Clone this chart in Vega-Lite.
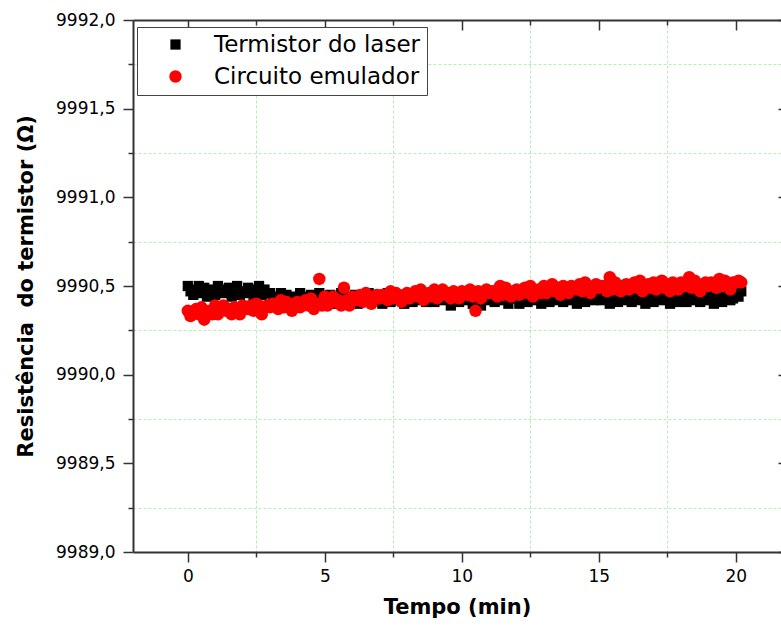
{
  "$schema": "https://vega.github.io/schema/vega-lite/v6.json",
  "width": 648,
  "height": 532,
  "autosize": {"type": "none"},
  "padding": {"left": 133, "top": 20, "right": 0, "bottom": 82},
  "background": "white",
  "config": {"view": {"stroke": null}, "font": "DejaVu Sans"},
  "data": {"values": [
    {"t":0,"L":9990.50,"C":9990.36},{"t":0.1,"L":9990.47,"C":9990.33},{"t":0.2,"L":9990.45,"C":9990.35},{"t":0.3,"L":9990.48,"C":9990.37},{"t":0.4,"L":9990.50,"C":9990.34},
    {"t":0.5,"L":9990.46,"C":9990.38},{"t":0.6,"L":9990.49,"C":9990.31},{"t":0.7,"L":9990.44,"C":9990.35},{"t":0.8,"L":9990.47,"C":9990.36},{"t":0.9,"L":9990.48,"C":9990.34},
    {"t":1.0,"L":9990.45,"C":9990.39},{"t":1.1,"L":9990.50,"C":9990.34},{"t":1.2,"L":9990.48,"C":9990.37},{"t":1.3,"L":9990.46,"C":9990.39},{"t":1.4,"L":9990.47,"C":9990.36},
    {"t":1.5,"L":9990.49,"C":9990.37},{"t":1.6,"L":9990.44,"C":9990.34},{"t":1.7,"L":9990.48,"C":9990.38},{"t":1.8,"L":9990.50,"C":9990.37},{"t":1.9,"L":9990.45,"C":9990.34},
    {"t":2.0,"L":9990.47,"C":9990.39},{"t":2.1,"L":9990.46,"C":9990.37},{"t":2.2,"L":9990.49,"C":9990.37},{"t":2.3,"L":9990.48,"C":9990.39},{"t":2.4,"L":9990.44,"C":9990.36},
    {"t":2.5,"L":9990.47,"C":9990.40},{"t":2.6,"L":9990.50,"C":9990.39},{"t":2.7,"L":9990.45,"C":9990.34},{"t":2.8,"L":9990.48,"C":9990.38},{"t":2.9,"L":9990.46,"C":9990.39},
    {"t":3.0,"L":9990.46,"C":9990.38},{"t":3.1,"L":9990.43,"C":9990.40},{"t":3.2,"L":9990.41,"C":9990.39},{"t":3.3,"L":9990.44,"C":9990.37},{"t":3.4,"L":9990.46,"C":9990.42},
    {"t":3.5,"L":9990.42,"C":9990.38},{"t":3.6,"L":9990.45,"C":9990.41},{"t":3.7,"L":9990.40,"C":9990.39},{"t":3.8,"L":9990.43,"C":9990.36},{"t":3.9,"L":9990.44,"C":9990.40},
    {"t":4.0,"L":9990.41,"C":9990.41},{"t":4.1,"L":9990.46,"C":9990.38},{"t":4.2,"L":9990.44,"C":9990.40},{"t":4.3,"L":9990.42,"C":9990.42},{"t":4.4,"L":9990.43,"C":9990.39},
    {"t":4.5,"L":9990.45,"C":9990.43},{"t":4.6,"L":9990.40,"C":9990.37},{"t":4.7,"L":9990.44,"C":9990.40},{"t":4.8,"L":9990.46,"C":9990.54},{"t":4.9,"L":9990.41,"C":9990.39},
    {"t":5.0,"L":9990.43,"C":9990.44},{"t":5.1,"L":9990.42,"C":9990.39},{"t":5.2,"L":9990.45,"C":9990.42},{"t":5.3,"L":9990.44,"C":9990.44},{"t":5.4,"L":9990.40,"C":9990.41},
    {"t":5.5,"L":9990.43,"C":9990.42},{"t":5.6,"L":9990.46,"C":9990.39},{"t":5.7,"L":9990.41,"C":9990.49},{"t":5.8,"L":9990.44,"C":9990.42},{"t":5.9,"L":9990.42,"C":9990.39},
    {"t":6.0,"L":9990.42,"C":9990.44},{"t":6.1,"L":9990.45,"C":9990.43},{"t":6.2,"L":9990.40,"C":9990.42},{"t":6.3,"L":9990.43,"C":9990.45},{"t":6.4,"L":9990.44,"C":9990.41},
    {"t":6.5,"L":9990.41,"C":9990.46},{"t":6.6,"L":9990.46,"C":9990.44},{"t":6.7,"L":9990.44,"C":9990.40},{"t":6.8,"L":9990.42,"C":9990.43},{"t":6.9,"L":9990.43,"C":9990.45},
    {"t":7.0,"L":9990.45,"C":9990.43},{"t":7.1,"L":9990.40,"C":9990.45},{"t":7.2,"L":9990.44,"C":9990.44},{"t":7.3,"L":9990.46,"C":9990.42},{"t":7.4,"L":9990.41,"C":9990.47},
    {"t":7.5,"L":9990.43,"C":9990.43},{"t":7.6,"L":9990.42,"C":9990.46},{"t":7.7,"L":9990.45,"C":9990.44},{"t":7.8,"L":9990.44,"C":9990.41},{"t":7.9,"L":9990.40,"C":9990.45},
    {"t":8.0,"L":9990.43,"C":9990.46},{"t":8.1,"L":9990.46,"C":9990.43},{"t":8.2,"L":9990.41,"C":9990.45},{"t":8.3,"L":9990.44,"C":9990.47},{"t":8.4,"L":9990.42,"C":9990.44},
    {"t":8.5,"L":9990.46,"C":9990.48},{"t":8.6,"L":9990.43,"C":9990.42},{"t":8.7,"L":9990.41,"C":9990.45},{"t":8.8,"L":9990.44,"C":9990.46},{"t":8.9,"L":9990.46,"C":9990.44},
    {"t":9.0,"L":9990.41,"C":9990.48},{"t":9.1,"L":9990.46,"C":9990.43},{"t":9.2,"L":9990.44,"C":9990.46},{"t":9.3,"L":9990.42,"C":9990.48},{"t":9.4,"L":9990.43,"C":9990.45},
    {"t":9.5,"L":9990.45,"C":9990.46},{"t":9.6,"L":9990.39,"C":9990.43},{"t":9.7,"L":9990.44,"C":9990.47},{"t":9.8,"L":9990.46,"C":9990.46},{"t":9.9,"L":9990.41,"C":9990.43},
    {"t":10.0,"L":9990.43,"C":9990.47},{"t":10.1,"L":9990.42,"C":9990.46},{"t":10.2,"L":9990.45,"C":9990.45},{"t":10.3,"L":9990.44,"C":9990.48},{"t":10.4,"L":9990.40,"C":9990.44},
    {"t":10.5,"L":9990.43,"C":9990.36},{"t":10.6,"L":9990.46,"C":9990.47},{"t":10.7,"L":9990.39,"C":9990.43},{"t":10.8,"L":9990.44,"C":9990.46},{"t":10.9,"L":9990.42,"C":9990.48},
    {"t":11.0,"L":9990.46,"C":9990.46},{"t":11.1,"L":9990.43,"C":9990.47},{"t":11.2,"L":9990.41,"C":9990.47},{"t":11.3,"L":9990.44,"C":9990.44},{"t":11.4,"L":9990.46,"C":9990.50},
    {"t":11.5,"L":9990.42,"C":9990.45},{"t":11.6,"L":9990.45,"C":9990.49},{"t":11.7,"L":9990.40,"C":9990.46},{"t":11.8,"L":9990.43,"C":9990.44},{"t":11.9,"L":9990.44,"C":9990.47},
    {"t":12.0,"L":9990.45,"C":9990.48},{"t":12.1,"L":9990.40,"C":9990.45},{"t":12.2,"L":9990.44,"C":9990.47},{"t":12.3,"L":9990.46,"C":9990.49},{"t":12.4,"L":9990.41,"C":9990.46},
    {"t":12.5,"L":9990.43,"C":9990.50},{"t":12.6,"L":9990.42,"C":9990.44},{"t":12.7,"L":9990.45,"C":9990.47},{"t":12.8,"L":9990.44,"C":9990.48},{"t":12.9,"L":9990.40,"C":9990.46},
    {"t":13.0,"L":9990.43,"C":9990.50},{"t":13.1,"L":9990.46,"C":9990.46},{"t":13.2,"L":9990.41,"C":9990.48},{"t":13.3,"L":9990.44,"C":9990.51},{"t":13.4,"L":9990.42,"C":9990.47},
    {"t":13.5,"L":9990.46,"C":9990.49},{"t":13.6,"L":9990.43,"C":9990.45},{"t":13.7,"L":9990.41,"C":9990.50},{"t":13.8,"L":9990.44,"C":9990.48},{"t":13.9,"L":9990.46,"C":9990.46},
    {"t":14.0,"L":9990.42,"C":9990.50},{"t":14.1,"L":9990.45,"C":9990.49},{"t":14.2,"L":9990.40,"C":9990.48},{"t":14.3,"L":9990.43,"C":9990.51},{"t":14.4,"L":9990.44,"C":9990.47},
    {"t":14.5,"L":9990.41,"C":9990.52},{"t":14.6,"L":9990.46,"C":9990.50},{"t":14.7,"L":9990.44,"C":9990.46},{"t":14.8,"L":9990.42,"C":9990.49},{"t":14.9,"L":9990.43,"C":9990.51},
    {"t":15.0,"L":9990.43,"C":9990.49},{"t":15.1,"L":9990.42,"C":9990.50},{"t":15.2,"L":9990.45,"C":9990.50},{"t":15.3,"L":9990.44,"C":9990.47},{"t":15.4,"L":9990.40,"C":9990.55},
    {"t":15.5,"L":9990.43,"C":9990.48},{"t":15.6,"L":9990.46,"C":9990.52},{"t":15.7,"L":9990.41,"C":9990.49},{"t":15.8,"L":9990.44,"C":9990.47},{"t":15.9,"L":9990.42,"C":9990.50},
    {"t":16.0,"L":9990.46,"C":9990.51},{"t":16.1,"L":9990.43,"C":9990.48},{"t":16.2,"L":9990.41,"C":9990.50},{"t":16.3,"L":9990.44,"C":9990.52},{"t":16.4,"L":9990.46,"C":9990.49},
    {"t":16.5,"L":9990.42,"C":9990.53},{"t":16.6,"L":9990.45,"C":9990.47},{"t":16.7,"L":9990.40,"C":9990.50},{"t":16.8,"L":9990.43,"C":9990.51},{"t":16.9,"L":9990.44,"C":9990.49},
    {"t":17.0,"L":9990.41,"C":9990.52},{"t":17.1,"L":9990.46,"C":9990.48},{"t":17.2,"L":9990.44,"C":9990.50},{"t":17.3,"L":9990.42,"C":9990.53},{"t":17.4,"L":9990.43,"C":9990.49},
    {"t":17.5,"L":9990.45,"C":9990.51},{"t":17.6,"L":9990.40,"C":9990.47},{"t":17.7,"L":9990.44,"C":9990.52},{"t":17.8,"L":9990.46,"C":9990.50},{"t":17.9,"L":9990.41,"C":9990.48},
    {"t":18.0,"L":9990.43,"C":9990.52},{"t":18.1,"L":9990.46,"C":9990.50},{"t":18.2,"L":9990.41,"C":9990.50},{"t":18.3,"L":9990.44,"C":9990.55},{"t":18.4,"L":9990.42,"C":9990.49},
    {"t":18.5,"L":9990.46,"C":9990.53},{"t":18.6,"L":9990.43,"C":9990.51},{"t":18.7,"L":9990.41,"C":9990.47},{"t":18.8,"L":9990.44,"C":9990.51},{"t":18.9,"L":9990.46,"C":9990.52},
    {"t":19.0,"L":9990.42,"C":9990.50},{"t":19.1,"L":9990.45,"C":9990.52},{"t":19.2,"L":9990.40,"C":9990.51},{"t":19.3,"L":9990.43,"C":9990.49},{"t":19.4,"L":9990.44,"C":9990.54},
    {"t":19.5,"L":9990.41,"C":9990.50},{"t":19.6,"L":9990.46,"C":9990.53},{"t":19.7,"L":9990.44,"C":9990.51},{"t":19.8,"L":9990.42,"C":9990.48},{"t":19.9,"L":9990.43,"C":9990.52},
    {"t":20.0,"L":9990.45,"C":9990.52},{"t":20.1,"L":9990.44,"C":9990.53},{"t":20.2,"L":9990.47,"C":9990.52}
  ]},
  "transform": [{"fold": ["L", "C"], "as": ["serie", "r"]}],
  "layer": [
    {
      "mark": {"type": "point", "filled": true, "opacity": 0},
      "encoding": {
        "x": {"field": "t", "type": "quantitative",
              "scale": {"domain": [-2, 21.65], "nice": false, "zero": false},
              "axis": {"orient": "top", "values": [0, 2.5, 5, 7.5, 10, 12.5, 15, 17.5, 20],
                       "labels": false, "title": null, "grid": false,
                       "tickSize": {"condition": {"test": "datum.value % 5 == 0", "value": -10}, "value": -5},
                       "tickColor": "#333", "tickWidth": 1.5, "domainColor": "#333", "domainWidth": 2}},
        "y": {"field": "r", "type": "quantitative",
              "scale": {"domain": [9989, 9992], "nice": false, "zero": false},
              "axis": {"orient": "right", "values": [9989, 9989.5, 9990, 9990.5, 9991, 9991.5, 9992],
                       "labels": false, "title": null, "grid": false, "domain": false,
                       "tickSize": -3, "tickColor": "#333", "tickWidth": 1.5}}
      }
    },
    {
      "mark": {"type": "point", "filled": true, "opacity": 1},
      "encoding": {
        "x": {"field": "t", "type": "quantitative",
              "scale": {"domain": [-2, 21.65], "nice": false, "zero": false},
              "axis": {"orient": "bottom", "values": [0, 2.5, 5, 7.5, 10, 12.5, 15, 17.5, 20],
                       "title": "Tempo (min)", "titleFontSize": 21, "titleFontWeight": "bold", "titleColor": "black",
                       "titlePadding": 12,
                       "labelFontSize": 17, "labelColor": "black", "labelPadding": 6, "labelFlush": false, "labelOverlap": false,
                       "labelExpr": "datum.value % 5 == 0 ? datum.label : ''",
                       "tickSize": {"condition": {"test": "datum.value % 5 == 0", "value": 10}, "value": 5},
                       "tickColor": "#333", "tickWidth": 1.5, "domainColor": "#333", "domainWidth": 2,
                       "grid": true, "gridColor": "#b4f0b4", "gridDash": [3, 2], "gridWidth": 1,
                       "gridOpacity": {"condition": {"test": "datum.value % 5 == 0", "value": 0}, "value": 1}}},
        "y": {"field": "r", "type": "quantitative",
              "scale": {"domain": [9989, 9992], "nice": false, "zero": false},
              "axis": {"orient": "left", "values": [9989, 9989.25, 9989.5, 9989.75, 9990, 9990.25, 9990.5, 9990.75, 9991, 9991.25, 9991.5, 9991.75, 9992],
                       "title": "Resistência\u00a0 do termistor (Ω)", "titleFontSize": 21, "titleFontWeight": "bold", "titleColor": "black",
                       "titlePadding": 19,
                       "labelFontSize": 17, "labelColor": "black", "labelPadding": 8, "labelFlush": false, "labelOverlap": false,
                       "labelExpr": "datum.value % 0.5 == 0 ? replace(format(datum.value, '.1f'), '.', ',') : ''",
                       "tickSize": {"condition": {"test": "datum.value % 0.5 == 0", "value": 10}, "value": 5},
                       "tickColor": "#333", "tickWidth": 1.5, "domainColor": "#333", "domainWidth": 2,
                       "grid": true, "gridColor": "#b4f0b4", "gridDash": [3, 2], "gridWidth": 1,
                       "gridOpacity": {"condition": {"test": "datum.value % 0.5 == 0", "value": 0}, "value": 1}}},
        "color": {"field": "serie", "type": "nominal",
                  "scale": {"domain": ["L", "C"], "range": ["black", "red"]},
                  "legend": {"orient": "none", "legendX": 4, "legendY": 7, "title": null,
                             "labelExpr": "datum.value == 'L' ? 'Termistor do laser' : 'Circuito emulador'",
                             "labelFontSize": 23, "labelColor": "black", "labelLimit": 0, "strokeColor": "#444", "fillColor": "white",
                             "padding": 6, "rowPadding": 8, "symbolOffset": 21, "labelOffset": 27,
                             "symbolSize": 130, "symbolStrokeWidth": 0}},
        "shape": {"field": "serie", "type": "nominal",
                  "scale": {"domain": ["L", "C"], "range": ["square", "circle"]},
                  "legend": {"orient": "none", "legendX": 4, "legendY": 7, "title": null,
                             "labelExpr": "datum.value == 'L' ? 'Termistor do laser' : 'Circuito emulador'",
                             "labelFontSize": 23, "labelColor": "black", "labelLimit": 0, "strokeColor": "#444", "fillColor": "white",
                             "padding": 6, "rowPadding": 8, "symbolOffset": 21, "labelOffset": 27,
                             "symbolSize": 130, "symbolStrokeWidth": 0}},
        "size": {"field": "serie", "type": "nominal",
                 "scale": {"domain": ["L", "C"], "range": [105, 155]}, "legend": null},
        "order": {"field": "serie", "sort": "descending"}
      }
    }
  ],
  "resolve": {"axis": {"x": "independent", "y": "independent"}}
}
